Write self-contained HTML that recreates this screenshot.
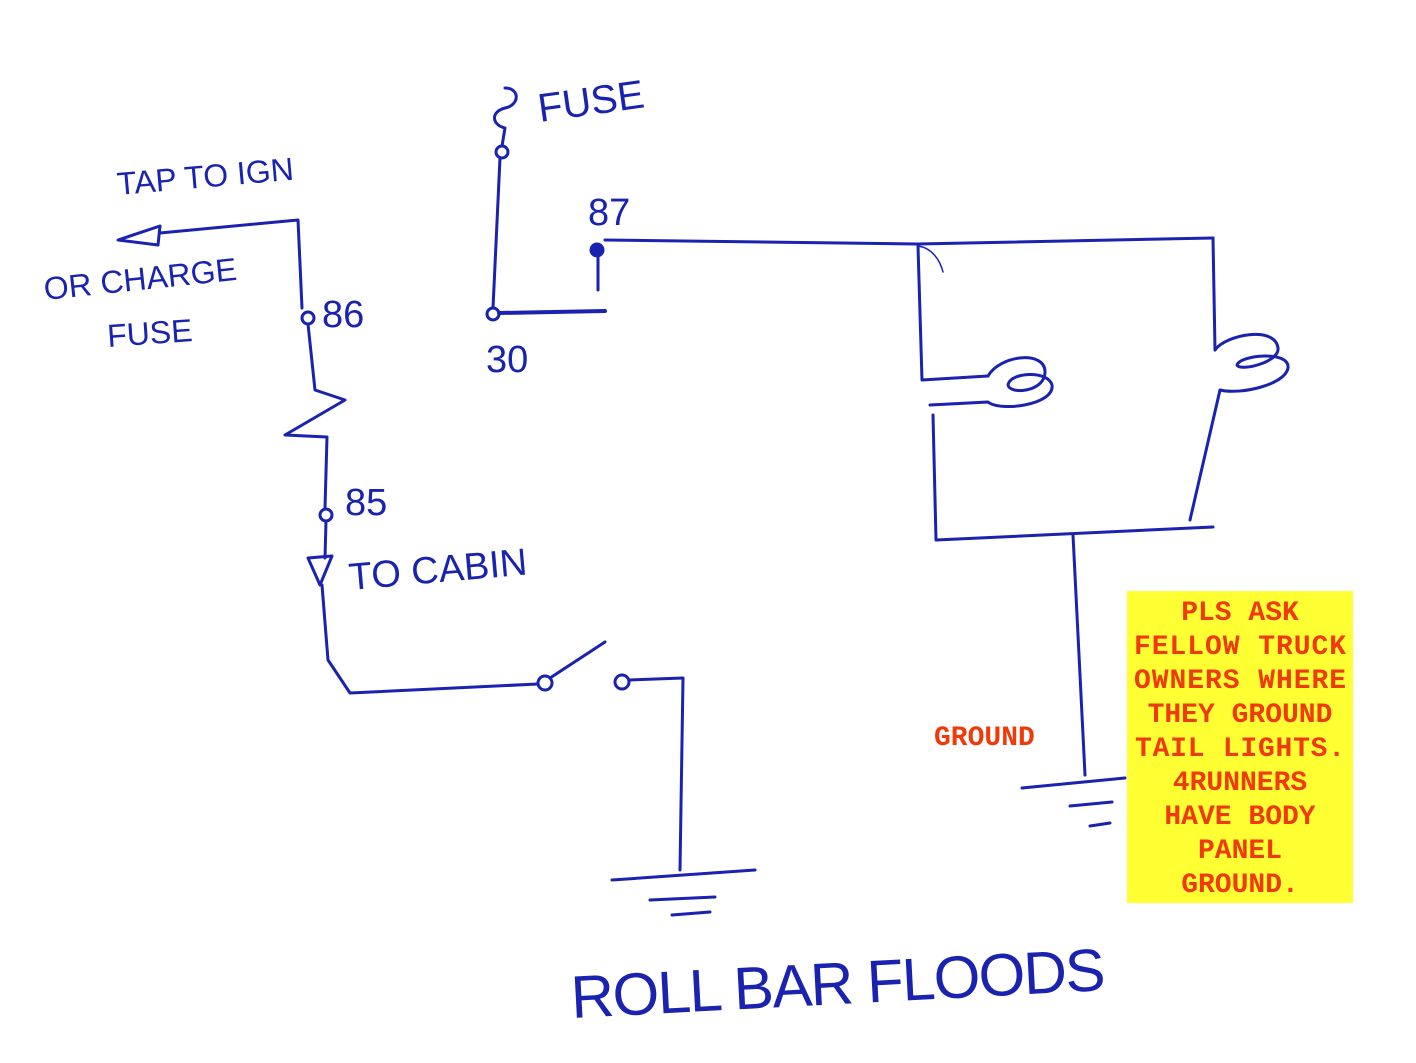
<!DOCTYPE html>
<html><head><meta charset="utf-8"><style>
html,body{margin:0;padding:0;background:#fff}
svg{display:block}
.h{font-family:"Liberation Sans",sans-serif;fill:#1a22b0;font-weight:normal}
.r{font-family:"Liberation Mono",monospace;font-weight:bold;fill:#f03a0a}
</style></head><body>
<svg width="1416" height="1063" viewBox="0 0 1416 1063">
<rect width="1416" height="1063" fill="#fff"/>
<g fill="none" stroke="#1a22b0" stroke-width="3" stroke-linecap="round" stroke-linejoin="round">
<path d="M505,88 C520,88 520,105 505,108 C490,112 492,125 505,128 L502,146"/>
<circle cx="502" cy="152" r="6"/>
<path d="M500,158 L493,308"/>
<circle cx="493" cy="314" r="6"/>
<path d="M499,313 L605,311" stroke-width="4"/>
<circle cx="597" cy="250" r="6" fill="#1a22b0"/>
<path d="M598,256 L598,290"/>
<path d="M605,240 L918,244 L1213,238"/>
<path d="M918,246 L922,380 L988,376"/>
<path d="M988,376 C1000,355 1045,350 1045,372 C1045,392 1010,395 1008,385 C1010,372 1048,370 1052,385 C1055,405 1000,412 988,402 L930,405"/>
<path d="M933,415 L936,540 L1213,527"/>
<path d="M1213,238 L1215,350"/>
<path d="M1215,350 C1225,335 1275,325 1278,348 C1280,362 1240,372 1237,365 C1240,355 1290,350 1288,368 C1285,385 1240,395 1220,390 L1190,520"/>
<path d="M918,246 C932,248 940,260 943,272" stroke-width="1.5"/>
<path d="M1073,535 L1085,775"/>
<path d="M1022,788 L1125,778"/>
<path d="M1070,806 L1112,802"/>
<path d="M1090,826 L1110,823"/>
<path d="M118,240 L160,226 L158,245 Z"/>
<path d="M160,233 L298,220 L302,308"/>
<circle cx="308" cy="318" r="6"/>
<path d="M308,324 L315,390 L345,400 L285,435 L327,437 L325,508"/>
<circle cx="326" cy="515" r="6"/>
<path d="M326,521 L325,558"/>
<path d="M308,558 L332,556 L320,585 Z"/>
<path d="M322,585 L328,660 L350,693 L538,684"/>
<circle cx="545" cy="683" r="7"/>
<path d="M550,678 L605,642"/>
<circle cx="622" cy="682" r="7"/>
<path d="M630,680 L683,678 L680,870"/>
<path d="M612,880 L755,870"/>
<path d="M650,900 L715,897"/>
<path d="M672,915 L710,912"/>
</g>
<text class="h" x="540" y="122" font-size="40" transform="rotate(-8 540 122)">FUSE</text>
<text class="h" x="118" y="195" font-size="32" transform="rotate(-5 118 195)">TAP TO IGN</text>
<text class="h" x="45" y="300" font-size="32" transform="rotate(-6 45 300)">OR CHARGE</text>
<text class="h" x="108" y="347" font-size="32" transform="rotate(-4 108 347)">FUSE</text>
<text class="h" x="322" y="327" font-size="38">86</text>
<text class="h" x="588" y="225" font-size="38">87</text>
<text class="h" x="486" y="372" font-size="38">30</text>
<text class="h" x="345" y="515" font-size="38">85</text>
<text class="h" x="350" y="590" font-size="38" transform="rotate(-5 350 590)">TO CABIN</text>
<text class="h" x="572" y="1018" font-size="60" transform="rotate(-3 572 1018)" textLength="535" lengthAdjust="spacing">ROLL BAR FLOODS</text>
<text class="r" x="934" y="745" font-size="28">GROUND</text>
<rect x="1127" y="591" width="226" height="312" fill="#ffff33"/>
<g class="r" font-size="28" text-anchor="middle">
<text x="1240" y="620">PLS ASK</text>
<text x="1240" y="654" textLength="212">FELLOW TRUCK</text>
<text x="1240" y="688" textLength="212">OWNERS WHERE</text>
<text x="1240" y="722">THEY GROUND</text>
<text x="1240" y="756" textLength="210">TAIL LIGHTS.</text>
<text x="1240" y="790">4RUNNERS</text>
<text x="1240" y="824">HAVE BODY</text>
<text x="1240" y="858">PANEL</text>
<text x="1240" y="892">GROUND.</text>
</g>
</svg>
</body></html>
